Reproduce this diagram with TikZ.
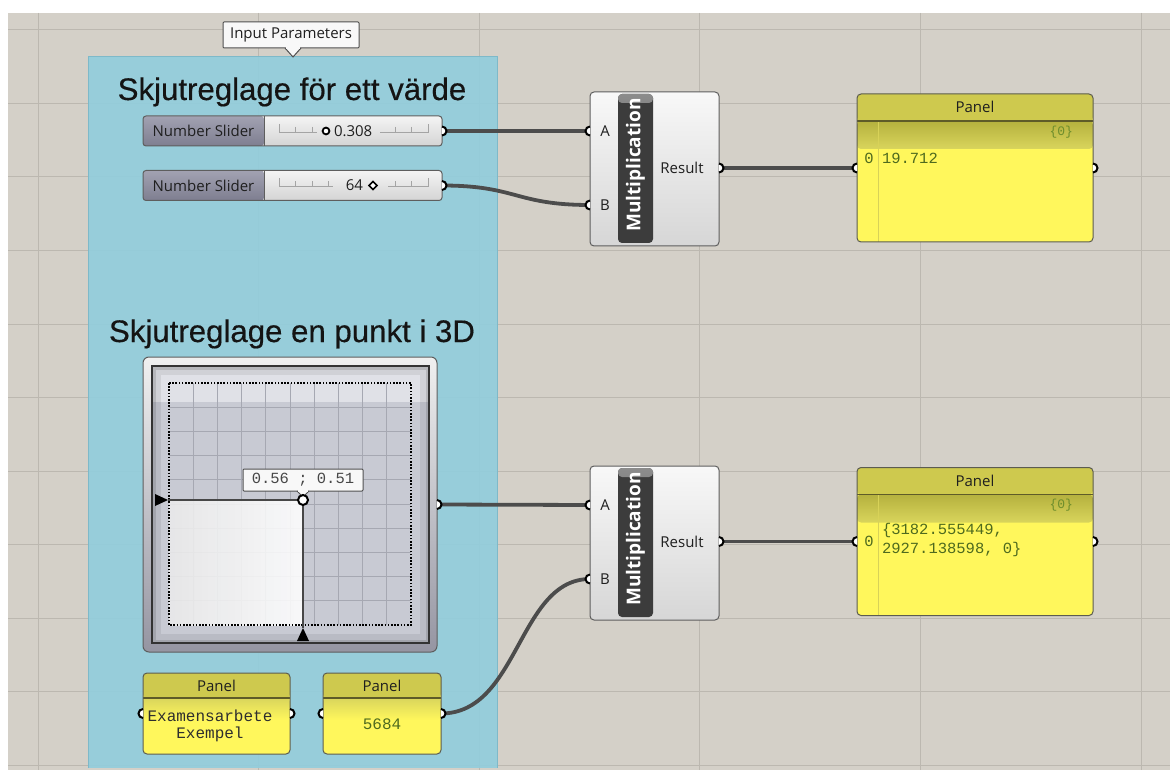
\documentclass[tikz,border=0pt]{standalone}
\usepackage{fontspec}
\setmainfont{Open Sans}
\newfontfamily\titlefont{Liberation Sans}[FakeBold=0.4]
\newfontfamily\codefont{Liberation Mono}
\usetikzlibrary{calc}

\definecolor{canvas}{HTML}{D4D0C8}
\definecolor{gridc}{HTML}{BCB8B0}
\definecolor{groupc}{HTML}{93CDDC}
\definecolor{groupb}{HTML}{7EB9C9}
\definecolor{wirec}{HTML}{4C4C4C}
\definecolor{edgec}{HTML}{5E5E5E}
\definecolor{compA}{HTML}{F8F8F8}
\definecolor{compB}{HTML}{D6D6D6}
\definecolor{barc}{HTML}{3C3C3C}
\definecolor{barhi}{HTML}{8C8C8C}
\definecolor{slabA}{HTML}{A2A2B2}
\definecolor{slabB}{HTML}{7E7E90}
\definecolor{svalA}{HTML}{F4F4F4}
\definecolor{svalB}{HTML}{D4D4D4}
\definecolor{tickc}{HTML}{A4A4A4}
\definecolor{panhead}{HTML}{CEC94E}
\definecolor{panbandA}{HTML}{B5B13E}
\definecolor{panbandB}{HTML}{D9D55C}
\definecolor{panbody}{HTML}{FFF75C}
\definecolor{panline}{HTML}{5E5B28}
\definecolor{panidx}{HTML}{D8D258}
\definecolor{panedge}{HTML}{5C5C50}
\definecolor{pantext}{HTML}{4E6A1E}
\definecolor{panpath}{HTML}{6E8E2C}
\definecolor{tipfill}{HTML}{F8F8F8}
\definecolor{tipedge}{HTML}{505050}
\definecolor{fieldc}{HTML}{C8CAD3}
\definecolor{fieldtop}{HTML}{E0E1E7}
\definecolor{fieldgrid}{HTML}{A6A8B2}
\definecolor{rimA}{HTML}{F0F0F0}
\definecolor{rimB}{HTML}{9595A2}

\pgfdeclarelayer{canvaslayer}
\pgfdeclarelayer{wirelayer}
\pgfsetlayers{canvaslayer,wirelayer,main}

\tikzset{
  wire/.style={draw=wirec, line width=3.8pt},
  gridline/.style={draw=gridc, line width=1pt},
  uitext/.style={font=\fontsize{15}{17}\selectfont, text=black!88},
  titletext/.style={font=\titlefont\fontsize{31.2}{34}\selectfont, text=black!92, anchor=base},
  tooltip/.style={draw=tipedge, fill=tipfill, line width=1pt, rounded corners=1pt},
  numslider/.style={draw=edgec, line width=1pt, rounded corners=3pt,
    top color=svalA, bottom color=svalB, minimum width=299pt, minimum height=30pt,
    path picture={
      \shade[top color=slabA, bottom color=slabB]
        (path picture bounding box.north west) rectangle
        ([xshift=121pt]path picture bounding box.south west);
      \draw[edgec, line width=1pt]
        ([xshift=121pt]path picture bounding box.north west) --
        ([xshift=121pt]path picture bounding box.south west);}},
  mathcomp/.style={draw=edgec, line width=1pt, rounded corners=4pt,
    top color=compA, bottom color=compB, minimum width=129pt, minimum height=154pt},
  namebar/.style={fill=barc, rounded corners=4pt, minimum width=35pt, minimum height=149pt,
    path picture={
      \shade[top color=barhi, bottom color=barc]
        (path picture bounding box.north west) rectangle
        ([yshift=-9pt]path picture bounding box.north east);}},
  bartext/.style={font=\bfseries\fontsize{19}{20}\selectfont, text=white, rotate=90},
  bigpanel/.style={draw=panedge, line width=1pt, rounded corners=4pt, fill=panbody,
    minimum width=236pt, minimum height=148pt,
    path picture={
      \fill[panhead] (path picture bounding box.north west) rectangle
        ([yshift=-27pt]path picture bounding box.north east);
      \shade[top color=panbandA, bottom color=panbandB]
        ([yshift=-27pt]path picture bounding box.north west) rectangle
        ([yshift=-55pt]path picture bounding box.north east);
      \draw[panidx, line width=1pt]
        ([xshift=21pt,yshift=-27pt]path picture bounding box.north west) --
        ([xshift=21pt]path picture bounding box.south west);
      \draw[panline, line width=1.5pt]
        ([yshift=-27pt]path picture bounding box.north west) --
        ([yshift=-27pt]path picture bounding box.north east);}},
  smallpanel/.style={draw=panedge, line width=1pt, rounded corners=4pt, fill=panbody,
    minimum height=81pt,
    path picture={
      \fill[panhead] (path picture bounding box.north west) rectangle
        ([yshift=-25pt]path picture bounding box.north east);
      \shade[top color=panbandB, bottom color=panbody]
        ([yshift=-25pt]path picture bounding box.north west) rectangle
        ([yshift=-47pt]path picture bounding box.north east);
      \draw[panline, line width=1.5pt]
        ([yshift=-25pt]path picture bounding box.north west) --
        ([yshift=-25pt]path picture bounding box.north east);}},
  valtext/.style={font=\codefont\fontsize{15.5}{19}\selectfont, text=pantext},
  pathtext/.style={font=\codefont\fontsize{13}{14}\selectfont, text=panpath},
  gripout/.pic={
    \fill[white] (0,-4.5) arc(-90:90:4.5) -- cycle;
    \draw[black, line width=2pt] (0,-4.5) arc(-90:90:4.5);},
  gripin/.pic={
    \fill[white] (0,-4.5) arc(270:90:4.5) -- cycle;
    \draw[black, line width=2pt] (0,-4.5) arc(270:90:4.5);},
}

\begin{document}
\begin{tikzpicture}[x=1pt, y=-1pt, every node/.style={inner sep=0pt, outer sep=0pt}]
\useasboundingbox (0,0) rectangle (1170,770);

% ---------------- canvas, grid and group ----------------
\begin{pgfonlayer}{canvaslayer}
  \fill[white] (0,0) rectangle (1170,770);
  \fill[canvas] (8,13) rectangle (1170,770);
  \foreach \gy in {30,103.5,177,250.5,324,397.5,471,544.5,618,691.5,765}
    \draw[gridline] (8,\gy) -- (1170,\gy);
  \foreach \gx in {38,258.6,479.2,699.8,920.4,1141}
    \draw[gridline] (\gx,13) -- (\gx,770);
  \fill[groupc, opacity=0.93] (88,57) rectangle (497,768);
  \draw[groupb, line width=1pt] (88,768) -- (88,57) -- (497,57) -- (497,768);
\end{pgfonlayer}

% group tag
\node[tooltip, minimum width=136pt, minimum height=26pt, uitext] (tag) at (291,35) {Input Parameters};
\filldraw[fill=tipfill, draw=tipedge, line width=1pt]
  ($(tag.south)+(-6,0)$) -- ($(tag.south)+(2,9)$) -- ($(tag.south)+(10,0)$);
\draw[tipfill, line width=1.4pt] ($(tag.south)+(-5.2,0)$) -- ($(tag.south)+(9.2,0)$);

% group titles
\node[titletext] (title1) at (292,100) {Skjutreglage för ett värde};
\node[titletext] (title2) at (292,342) {Skjutreglage en punkt i 3D};

% ---------------- number sliders ----------------
\node[numslider] (s1) at (292.5,131) {};
\node[numslider] (s2) at (292.5,185.5) {};
\node[uitext] (s1lab) at (203.5,131) {Number Slider};
\node[uitext] (s2lab) at (203.5,185.5) {Number Slider};

% tick rails
\draw[tickc, line width=0.8pt] (279,124) -- (279,132) -- (317,132);
\draw[tickc, line width=0.8pt] (380,132) -- (428,132) -- (428,124);
\foreach \tx in {295.6,312.1,394.9,411.4}
  \draw[tickc, line width=0.8pt] (\tx,127) -- (\tx,132);
\draw[tickc, line width=0.8pt] (279,178.5) -- (279,186.5) -- (333,186.5);
\draw[tickc, line width=0.8pt] (388,186.5) -- (428,186.5) -- (428,178.5);
\foreach \tx in {295.6,312.1,328.7,394.9,411.4}
  \draw[tickc, line width=0.8pt] (\tx,181.5) -- (\tx,186.5);

% slider values and knobs
\draw[black, line width=1.8pt, fill=white] (326,131) circle (3.4);
\node[uitext, anchor=west] (s1val) at (334,131) {0.308};
\node[uitext, anchor=east] (s2val) at (363,185.5) {64};
\draw[black, line width=1.6pt, fill=white] (373,181.5) -- (377,185.5) -- (373,189.5) -- (369,185.5) -- cycle;

% ---------------- 2D slider ----------------
\node[draw=edgec, line width=1pt, rounded corners=6pt, top color=rimA, bottom color=rimB,
      minimum width=294pt, minimum height=295pt] (xy) at (290,504.5) {};
\node[draw=black!80, line width=1.5pt, fill=fieldc, minimum width=277pt, minimum height=277pt,
      path picture={
        \fill[fieldtop] (path picture bounding box.north west) rectangle
          ([yshift=-36pt]path picture bounding box.north east);
        \draw[black, opacity=0.07, line width=18pt] (path picture bounding box.north west) rectangle (path picture bounding box.south east);
        \draw[black, opacity=0.12, line width=7pt] (path picture bounding box.north west) rectangle (path picture bounding box.south east);
      }] (xyfield) at (290.5,504.5) {};
% field grid
\foreach \k in {1,...,9} {
  \draw[fieldgrid, line width=1pt] ({169+24.2*\k},383) -- ({169+24.2*\k},625);
  \draw[fieldgrid, line width=1pt] (169,{383+24.2*\k}) -- (411,{383+24.2*\k});
}
% selected region
\shade[left color=black!8, right color=white, opacity=0.88] (169,500) rectangle (303,625);
\draw[black, line width=1.2pt, dash pattern=on 1.6pt off 1.6pt] (169,383) rectangle (411,625);
\draw[black!72, line width=1.5pt] (168,500) -- (303,500) -- (303,628);
\fill[black] (155,494) -- (168,500) -- (155,506) -- cycle;
\fill[black] (297,641) -- (303,628) -- (309,641) -- cycle;
% value tag
\node[tooltip, minimum width=120pt, minimum height=22pt, font=\codefont\fontsize{15.5}{17}\selectfont, text=black!72] (xytag) at (303,480) {0.56 ; 0.51};
\filldraw[fill=tipfill, draw=tipedge, line width=1pt]
  ($(xytag.south)+(-6,0)$) -- ($(xytag.south)+(0,6)$) -- ($(xytag.south)+(6,0)$);
\draw[tipfill, line width=1.4pt] ($(xytag.south)+(-5.2,0)$) -- ($(xytag.south)+(5.2,0)$);
\draw[black, line width=2pt, fill=white] (303,500) circle (5);

% ---------------- bottom panels ----------------
\node[smallpanel, minimum width=147pt] (pa) at (216.5,713.5) {};
\node[uitext] (palab) at (216.5,685.5) {Panel};
\node[font=\codefont\fontsize{16}{17}\selectfont, text=black!82, align=center] (patext) at (210,725.5) {Examensarbete\\Exempel};
\node[smallpanel, minimum width=118pt] (pb) at (382,713.5) {};
\node[uitext] (pblab) at (382,685.5) {Panel};
\node[font=\codefont\fontsize{16}{17}\selectfont, text=pantext] (pbtext) at (382,724) {5684};

% ---------------- multiplication components ----------------
\node[mathcomp] (m1) at (654.5,169) {};
\node[namebar] (m1bar) at (635.5,168.5) {};
\node[bartext] (m1name) at (635.5,165) {Multiplication};
\node[uitext] (m1A) at (605,131) {A};
\node[uitext] (m1B) at (605,205) {B};
\node[uitext] (m1R) at (682,168) {Result};

\node[mathcomp] (m2) at (654.5,543) {};
\node[namebar] (m2bar) at (635.5,542.5) {};
\node[bartext] (m2name) at (635.5,539) {Multiplication};
\node[uitext] (m2A) at (605,505) {A};
\node[uitext] (m2B) at (605,579) {B};
\node[uitext] (m2R) at (682,542) {Result};

% ---------------- output panels ----------------
\node[bigpanel] (p1) at (975,168) {};
\node[uitext] (p1lab) at (975,107) {Panel};
\node[pathtext, anchor=east] (p1path) at (1073,132) {\{0\}};
\node[valtext] (p1idx) at (869,158) {0};
\node[valtext, anchor=west] (p1val) at (882,158) {19.712};

\node[bigpanel] (p2) at (975,541.5) {};
\node[uitext] (p2lab) at (975,480.5) {Panel};
\node[pathtext, anchor=east] (p2path) at (1073,505.5) {\{0\}};
\node[valtext] (p2idx) at (869,541) {0};
\node[valtext, anchor=north west, align=left] (p2val) at (882,523) {\{3182.555449,\\2927.138598, 0\}};

% ---------------- grip positions ----------------
\coordinate (s1o) at (s1.east);
\coordinate (s2o) at (s2.east);
\coordinate (xyo) at (xy.east);
\coordinate (pai) at (pa.west);
\coordinate (pao) at (pa.east);
\coordinate (pbi) at (pb.west);
\coordinate (pbo) at (pb.east);
\coordinate (m1a) at ($(m1.north west)+(0,39)$);
\coordinate (m1b) at ($(m1.north west)+(0,113)$);
\coordinate (m1r) at ($(m1.north east)+(0,76)$);
\coordinate (m2a) at ($(m2.north west)+(0,39)$);
\coordinate (m2b) at ($(m2.north west)+(0,113)$);
\coordinate (m2r) at ($(m2.north east)+(0,75.5)$);
\coordinate (p1i) at (p1.west);
\coordinate (p1o) at (p1.east);
\coordinate (p2i) at (p2.west);
\coordinate (p2o) at (p2.east);

% ---------------- wires ----------------
\begin{pgfonlayer}{wirelayer}
  \draw[wire] (s1o) -- (m1a);
  \draw[wire] (s2o) .. controls +(75,0) and +(-75,0) .. (m1b);
  \draw[wire] (m1r) -- (p1i);
  \draw[wire] (xyo) -- (m2a);
  \draw[wire] (pbo) .. controls +(78,0) and +(-72,0) .. (m2b);
  \draw[wire] (m2r) -- (p2i);
\end{pgfonlayer}

% ---------------- grips ----------------
\foreach \g in {s1o,s2o,xyo,pao,pbo,m1r,m2r,p1o,p2o}
  \pic at (\g) {gripout};
\foreach \g in {pai,pbi,m1a,m1b,m2a,m2b,p1i,p2i}
  \pic at (\g) {gripin};

\end{tikzpicture}
\end{document}
